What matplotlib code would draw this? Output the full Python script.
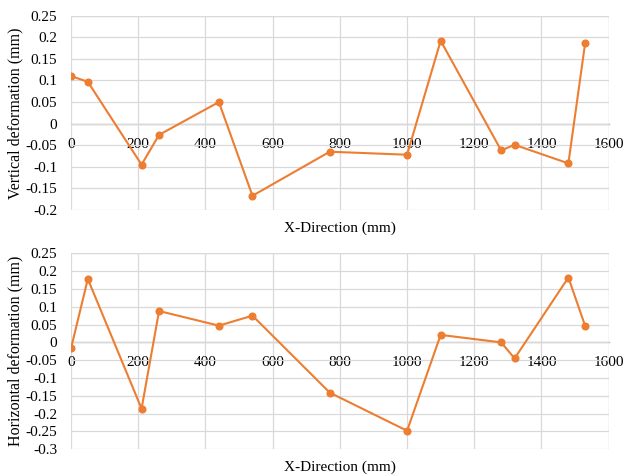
import matplotlib.pyplot as plt
from matplotlib.ticker import MultipleLocator, FuncFormatter

plt.rcParams['font.family'] = ['Liberation Serif', 'DejaVu Serif']

# x positions (mm)
x_pos = [0, 50, 210, 262, 440, 540, 770, 1000, 1100, 1280, 1320, 1480, 1530]

# deformations (mm)
vertical = [0.110, 0.097, -0.095, -0.026, 0.050, -0.167, -0.065, -0.072,
            0.192, -0.062, -0.049, -0.092, 0.187]
horizontal = [-0.017, 0.178, -0.186, 0.088, 0.047, 0.075, -0.141, -0.248,
              0.021, 0.000, -0.045, 0.182, 0.046]

orange = '#ED7D31'
grid_c = '#D9D9D9'


def fmt(v, pos):
    s = ('%.2f' % v).rstrip('0').rstrip('.')
    if s in ('-0', ''):
        s = '0'
    return s


fig = plt.figure(figsize=(6.24, 4.76), dpi=100)
ax1 = fig.add_axes([71 / 624, 1 - 210 / 476, 537.7 / 624, 194.3 / 476])
ax2 = fig.add_axes([71 / 624, 1 - 449.3 / 476, 537.7 / 624, 196 / 476])

panels = [
    (ax1, vertical, 'Vertical deformation (mm)', (-0.2, 0.25)),
    (ax2, horizontal, 'Horizontal deformation (mm)', (-0.3, 0.25)),
]

for ax, vals, ylab, ylim in panels:
    ax.plot(x_pos, vals, color=orange, lw=1.5, marker='o', ms=4.8, zorder=3)
    ax.set_xlim(0, 1600)
    ax.set_ylim(*ylim)
    ax.xaxis.set_major_locator(MultipleLocator(200))
    ax.yaxis.set_major_locator(MultipleLocator(0.05))
    ax.yaxis.set_major_formatter(FuncFormatter(fmt))
    ax.grid(True, color=grid_c, lw=0.9, zorder=0)
    for s in ['top', 'right', 'left']:
        ax.spines[s].set_visible(False)
    ax.spines['bottom'].set_position(('data', 0))
    ax.spines['bottom'].set_color('#BFBFBF')
    ax.spines['bottom'].set_linewidth(1.0)
    ax.spines['bottom'].set_zorder(1)
    ax.tick_params(axis='both', length=0, labelsize=11, colors='#000000')
    ax.tick_params(axis='x', pad=10)
    ax.tick_params(axis='y', pad=10)
    ax.set_ylabel(ylab, fontsize=11.5)
    ax.set_xlabel('X-Direction (mm)', fontsize=11)
    ax.axvline(1600, color=grid_c, lw=0.9, zorder=0)
    ax.axhline(ylim[1], color=grid_c, lw=0.9, zorder=0)

ax1.xaxis.set_label_coords(0.5, -0.06)
ax2.xaxis.set_label_coords(0.5, -0.055)
ax1.yaxis.set_label_coords(-0.088, 0.5)
ax2.yaxis.set_label_coords(-0.088, 0.5)

fig.savefig('out.png', dpi=100)
